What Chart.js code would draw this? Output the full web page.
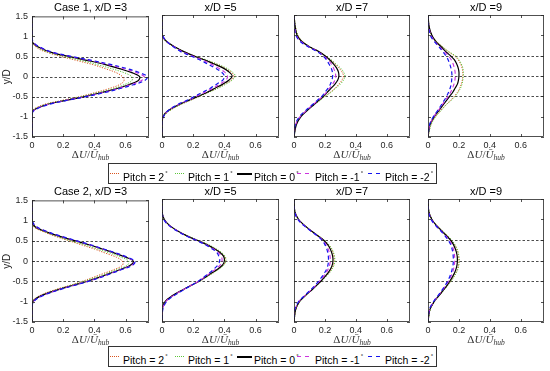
<!DOCTYPE html>
<html>
<head>
<meta charset="utf-8">
<script src="https://cdn.jsdelivr.net/npm/chart.js@4.4.1/dist/chart.umd.min.js"></script>
<style>
  html, body { margin: 0; padding: 0; background: #fff; }
  #fig { position: relative; width: 550px; height: 371px; overflow: hidden; font-family: "Liberation Sans", Arial, sans-serif; }
  .cv { position: absolute; }
  .ttl { position: absolute; font-size: 11px; color: #000; transform: translateX(-50%); white-space: nowrap; line-height: 12px; }
  .xl { position: absolute; font-family: "Liberation Serif", serif; font-size: 11px; color: #333; transform: translateX(-50%); white-space: nowrap; line-height: 12px; }
  .xl sub { font-size: 7.5px; vertical-align: -2px; }
  .leg { position: absolute; left: 108px; width: 327px; height: 19px; border: 1px solid #333; background: #fff; }
  .sw { position: absolute; top: 9px; }
  .tx { position: absolute; top: 3px; font-size: 10.5px; line-height: 13px; white-space: nowrap; color: #000; }
  .tx sup { font-size: 6px; vertical-align: 6px; margin-left: 1px; }
</style>
</head>
<body>
<div id="fig"></div>
<script>
// y/D positions of the profile samples
const yD = [1.5, 1.2, 1.0, 0.85, 0.7, 0.6, 0.5, 0.4, 0.3, 0.2, 0.1, 0, -0.1, -0.2, -0.3, -0.4, -0.5, -0.6, -0.7, -0.85, -1.0, -1.2, -1.5];

// deficit profiles, order: pitch 2, 1, 0, -1, -2
const case1_xD3 = [
  [0, 0, 0, 0, 0.04, 0.10, 0.19, 0.29, 0.39, 0.47, 0.54, 0.58, 0.59, 0.56, 0.49, 0.40, 0.30, 0.18, 0.07, 0, 0, 0, 0],
  [0, 0, 0, 0, 0.05, 0.11, 0.21, 0.32, 0.42, 0.51, 0.59, 0.64, 0.64, 0.59, 0.52, 0.42, 0.31, 0.19, 0.08, 0, 0, 0, 0],
  [0, 0, 0, 0.005, 0.06, 0.13, 0.24, 0.36, 0.47, 0.56, 0.64, 0.69, 0.68, 0.62, 0.54, 0.44, 0.33, 0.20, 0.09, 0.005, 0, 0, 0],
  [0, 0, 0, 0.008, 0.065, 0.135, 0.25, 0.38, 0.49, 0.59, 0.67, 0.72, 0.70, 0.63, 0.55, 0.45, 0.335, 0.205, 0.095, 0.008, 0, 0, 0],
  [0, 0, 0, 0.01, 0.07, 0.14, 0.26, 0.39, 0.51, 0.61, 0.69, 0.74, 0.72, 0.65, 0.56, 0.46, 0.34, 0.21, 0.10, 0.01, 0, 0, 0]
];
const case1_xD5 = [
  [0, 0, 0, 0.025, 0.09, 0.14, 0.20, 0.275, 0.345, 0.40, 0.44, 0.46, 0.445, 0.40, 0.355, 0.30, 0.24, 0.18, 0.12, 0.05, 0.01, 0, 0],
  [0, 0, 0, 0.025, 0.09, 0.14, 0.20, 0.28, 0.35, 0.41, 0.45, 0.47, 0.45, 0.41, 0.36, 0.30, 0.24, 0.18, 0.12, 0.05, 0.01, 0, 0],
  [0, 0, 0, 0.03, 0.09, 0.14, 0.20, 0.27, 0.33, 0.39, 0.43, 0.45, 0.43, 0.39, 0.34, 0.29, 0.23, 0.17, 0.11, 0.04, 0.005, 0, 0],
  [0, 0, 0.003, 0.03, 0.085, 0.13, 0.19, 0.255, 0.31, 0.36, 0.40, 0.42, 0.41, 0.37, 0.325, 0.275, 0.22, 0.165, 0.105, 0.04, 0.008, 0, 0],
  [0, 0, 0.005, 0.03, 0.08, 0.12, 0.18, 0.24, 0.29, 0.34, 0.38, 0.40, 0.39, 0.35, 0.31, 0.26, 0.21, 0.16, 0.10, 0.04, 0.01, 0, 0]
];
const case1_xD7 = [
  [0, 0.01, 0.025, 0.055, 0.11, 0.16, 0.20, 0.235, 0.265, 0.29, 0.31, 0.32, 0.31, 0.29, 0.265, 0.235, 0.20, 0.165, 0.13, 0.08, 0.04, 0.012, 0],
  [0, 0.01, 0.025, 0.055, 0.11, 0.16, 0.20, 0.24, 0.27, 0.30, 0.32, 0.33, 0.32, 0.30, 0.27, 0.24, 0.20, 0.17, 0.13, 0.08, 0.04, 0.012, 0],
  [0, 0.008, 0.02, 0.05, 0.11, 0.16, 0.20, 0.23, 0.255, 0.275, 0.287, 0.29, 0.283, 0.265, 0.24, 0.215, 0.19, 0.16, 0.13, 0.085, 0.045, 0.015, 0],
  [0, 0.005, 0.015, 0.045, 0.105, 0.155, 0.19, 0.22, 0.24, 0.255, 0.265, 0.27, 0.265, 0.25, 0.23, 0.21, 0.185, 0.155, 0.125, 0.08, 0.04, 0.01, 0],
  [0, 0.003, 0.012, 0.04, 0.10, 0.15, 0.185, 0.21, 0.225, 0.24, 0.248, 0.25, 0.245, 0.235, 0.22, 0.20, 0.18, 0.15, 0.12, 0.075, 0.035, 0.008, 0]
];
const case1_xD9 = [
  [0, 0.008, 0.025, 0.055, 0.10, 0.13, 0.17, 0.195, 0.21, 0.22, 0.225, 0.225, 0.222, 0.215, 0.205, 0.19, 0.17, 0.145, 0.118, 0.082, 0.048, 0.018, 0],
  [0, 0.008, 0.025, 0.055, 0.10, 0.135, 0.175, 0.20, 0.215, 0.225, 0.228, 0.228, 0.225, 0.22, 0.21, 0.195, 0.175, 0.15, 0.12, 0.085, 0.05, 0.02, 0],
  [0, 0.008, 0.025, 0.05, 0.09, 0.115, 0.145, 0.17, 0.185, 0.195, 0.20, 0.20, 0.197, 0.19, 0.175, 0.16, 0.14, 0.12, 0.10, 0.07, 0.04, 0.012, 0],
  [0, 0.006, 0.02, 0.045, 0.08, 0.105, 0.13, 0.15, 0.162, 0.17, 0.175, 0.176, 0.174, 0.168, 0.158, 0.146, 0.13, 0.112, 0.093, 0.066, 0.038, 0.011, 0],
  [0, 0.004, 0.015, 0.04, 0.075, 0.095, 0.115, 0.13, 0.14, 0.148, 0.153, 0.155, 0.153, 0.15, 0.143, 0.133, 0.12, 0.105, 0.088, 0.062, 0.035, 0.01, 0]
];
const case2_xD3 = [
  [0, 0, 0, 0.01, 0.09, 0.16, 0.24, 0.32, 0.40, 0.47, 0.54, 0.58, 0.58, 0.53, 0.46, 0.39, 0.32, 0.24, 0.15, 0.05, 0, 0, 0],
  [0, 0, 0, 0.015, 0.10, 0.17, 0.25, 0.34, 0.42, 0.50, 0.57, 0.62, 0.61, 0.55, 0.48, 0.41, 0.33, 0.245, 0.16, 0.055, 0, 0, 0],
  [0, 0, 0, 0.02, 0.11, 0.19, 0.28, 0.37, 0.45, 0.53, 0.60, 0.65, 0.63, 0.57, 0.50, 0.43, 0.35, 0.26, 0.17, 0.06, 0.005, 0, 0],
  [0, 0, 0, 0.025, 0.115, 0.195, 0.285, 0.375, 0.455, 0.535, 0.605, 0.655, 0.64, 0.575, 0.505, 0.435, 0.355, 0.265, 0.175, 0.065, 0.008, 0, 0],
  [0, 0, 0, 0.03, 0.12, 0.20, 0.29, 0.38, 0.46, 0.54, 0.61, 0.66, 0.645, 0.58, 0.51, 0.44, 0.36, 0.27, 0.18, 0.07, 0.01, 0, 0]
];
const case2_xD5 = [
  [0, 0, 0.015, 0.05, 0.11, 0.16, 0.22, 0.285, 0.335, 0.375, 0.40, 0.405, 0.395, 0.365, 0.325, 0.285, 0.24, 0.19, 0.14, 0.07, 0.02, 0, 0],
  [0, 0, 0.015, 0.05, 0.11, 0.165, 0.225, 0.29, 0.34, 0.38, 0.405, 0.41, 0.40, 0.37, 0.33, 0.29, 0.245, 0.195, 0.145, 0.075, 0.025, 0, 0],
  [0, 0, 0.015, 0.05, 0.11, 0.16, 0.22, 0.28, 0.33, 0.37, 0.395, 0.40, 0.39, 0.36, 0.32, 0.28, 0.24, 0.19, 0.14, 0.07, 0.02, 0, 0],
  [0, 0, 0.013, 0.048, 0.108, 0.158, 0.218, 0.275, 0.322, 0.36, 0.38, 0.385, 0.375, 0.348, 0.312, 0.275, 0.238, 0.19, 0.142, 0.075, 0.025, 0.002, 0],
  [0, 0, 0.012, 0.045, 0.105, 0.155, 0.215, 0.27, 0.315, 0.35, 0.365, 0.37, 0.36, 0.335, 0.305, 0.27, 0.235, 0.19, 0.145, 0.08, 0.03, 0.005, 0]
];
const case2_xD7 = [
  [0, 0.006, 0.03, 0.07, 0.12, 0.158, 0.193, 0.22, 0.24, 0.252, 0.258, 0.26, 0.256, 0.244, 0.226, 0.202, 0.176, 0.148, 0.12, 0.077, 0.038, 0.012, 0],
  [0, 0.006, 0.03, 0.07, 0.12, 0.16, 0.195, 0.222, 0.242, 0.255, 0.262, 0.264, 0.26, 0.248, 0.23, 0.205, 0.178, 0.15, 0.122, 0.078, 0.04, 0.012, 0],
  [0, 0.005, 0.03, 0.07, 0.12, 0.155, 0.19, 0.215, 0.232, 0.243, 0.25, 0.252, 0.248, 0.237, 0.22, 0.198, 0.175, 0.148, 0.12, 0.075, 0.035, 0.01, 0],
  [0, 0.004, 0.027, 0.067, 0.117, 0.152, 0.185, 0.205, 0.218, 0.228, 0.233, 0.235, 0.231, 0.222, 0.207, 0.188, 0.166, 0.142, 0.116, 0.072, 0.032, 0.007, 0],
  [0, 0.003, 0.025, 0.065, 0.115, 0.15, 0.18, 0.198, 0.21, 0.218, 0.222, 0.223, 0.22, 0.212, 0.198, 0.18, 0.16, 0.137, 0.112, 0.07, 0.03, 0.005, 0]
];
const case2_xD9 = [
  [0, 0.006, 0.027, 0.058, 0.099, 0.125, 0.151, 0.17, 0.184, 0.193, 0.198, 0.20, 0.198, 0.192, 0.181, 0.166, 0.148, 0.128, 0.107, 0.074, 0.042, 0.013, 0],
  [0, 0.006, 0.027, 0.058, 0.10, 0.127, 0.153, 0.172, 0.186, 0.195, 0.20, 0.202, 0.20, 0.194, 0.183, 0.168, 0.15, 0.13, 0.108, 0.075, 0.043, 0.014, 0],
  [0, 0.005, 0.025, 0.055, 0.095, 0.12, 0.145, 0.163, 0.175, 0.184, 0.189, 0.19, 0.188, 0.182, 0.172, 0.158, 0.142, 0.124, 0.104, 0.072, 0.04, 0.012, 0],
  [0, 0.004, 0.022, 0.052, 0.09, 0.114, 0.136, 0.152, 0.162, 0.169, 0.172, 0.173, 0.171, 0.166, 0.158, 0.146, 0.133, 0.116, 0.098, 0.068, 0.038, 0.01, 0],
  [0, 0.003, 0.02, 0.05, 0.088, 0.11, 0.13, 0.145, 0.154, 0.16, 0.163, 0.164, 0.162, 0.157, 0.15, 0.14, 0.128, 0.112, 0.095, 0.066, 0.036, 0.008, 0]
];

const panels = [case1_xD3, case1_xD5, case1_xD7, case1_xD9, case2_xD3, case2_xD5, case2_xD7, case2_xD9];
const titles = ['Case 1, x/D =3', 'x/D =5', 'x/D =7', 'x/D =9', 'Case 2, x/D =3', 'x/D =5', 'x/D =7', 'x/D =9'];
const pitchLabels = ['Pitch = 2', 'Pitch = 1', 'Pitch = 0', 'Pitch = -1', 'Pitch = -2'];
const xTicks = [0, 0.2, 0.4, 0.6];
const yTicks = [-1.5, -1, -0.5, 0, 0.5, 1, 1.5];
const refLines = [0.5, 0, -0.5];

// look of each pitch line
const colors = ['#d9541e', '#5cc63a', '#000000', '#cc33dd', '#1515ee'];
const dashes = [[1.2, 1.4], [1.2, 1.4], [], [4, 3], [4, 3]];
const widths = [1, 1, 1.2, 1.1, 1.2];

// panel placement (plot area)
const colL = [32, 162, 294, 428];
const colW = [117, 117, 116, 116];
const rowT = [15, 199];
const rowH = [122, 123];
const PADT = 8, YW = 32, XH = 16, PADR = 4;

const fig = document.getElementById('fig');

const framePlugin = {
  id: 'frame',
  beforeDatasetsDraw(chart) {
    const { ctx, chartArea: a, scales } = chart;
    ctx.save();
    ctx.strokeStyle = '#000';
    ctx.lineWidth = 0.7;
    ctx.setLineDash([2.5, 2]);
    refLines.forEach(v => {
      const py = Math.round(scales.y.getPixelForValue(v)) + 0.5;
      ctx.beginPath();
      ctx.moveTo(a.left, py);
      ctx.lineTo(a.right, py);
      ctx.stroke();
    });
    ctx.restore();
  },
  afterDraw(chart) {
    const { ctx, chartArea: a, scales } = chart;
    ctx.save();
    ctx.strokeStyle = '#262626';
    ctx.lineWidth = 0.8;
    ctx.strokeRect(a.left + 0.5, a.top + 0.5, a.right - a.left - 1, a.bottom - a.top - 1);
    ctx.beginPath();
    yTicks.forEach(v => {
      const py = Math.round(scales.y.getPixelForValue(v)) + 0.5;
      ctx.moveTo(a.left, py); ctx.lineTo(a.left + 3, py);
      ctx.moveTo(a.right, py); ctx.lineTo(a.right - 3, py);
    });
    xTicks.forEach(v => {
      const px = Math.round(scales.x.getPixelForValue(v)) + 0.5;
      ctx.moveTo(px, a.bottom); ctx.lineTo(px, a.bottom - 3);
      ctx.moveTo(px, a.top); ctx.lineTo(px, a.top + 3);
    });
    ctx.stroke();
    ctx.restore();
  }
};

panels.forEach((prof, i) => {
  const r = Math.floor(i / 4), c = i % 4;
  const L = colL[c], W = colW[c], T = rowT[r], H = rowH[r];
  const cw = YW + W + PADR, ch = PADT + H + XH;
  const cv = document.createElement('canvas');
  cv.className = 'cv';
  cv.width = cw; cv.height = ch;
  cv.style.left = (L - YW) + 'px';
  cv.style.top = (T - PADT) + 'px';
  cv.style.width = cw + 'px';
  cv.style.height = ch + 'px';
  fig.appendChild(cv);

  const ttl = document.createElement('div');
  ttl.className = 'ttl';
  ttl.textContent = titles[i];
  ttl.style.left = (L + W / 2) + 'px';
  ttl.style.top = (T - 14) + 'px';
  fig.appendChild(ttl);

  const xl = document.createElement('div');
  xl.className = 'xl';
  xl.innerHTML = '&Delta;<i>U</i>/<i>&#362;</i><sub><i>hub</i></sub>';
  xl.style.left = (L + W / 2) + 'px';
  xl.style.top = (T + H + 11) + 'px';
  fig.appendChild(xl);

  new Chart(cv, {
    type: 'line',
    data: {
      datasets: prof.map((vals, k) => ({
        label: pitchLabels[k] + '°',
        data: vals.map((v, j) => ({ x: v, y: yD[j] })),
        borderColor: colors[k],
        borderDash: dashes[k],
        borderWidth: widths[k],
        pointRadius: 0,
        tension: 0.35,
        fill: false
      })).reverse()
    },
    options: {
      indexAxis: 'y',
      responsive: false,
      animation: false,
      devicePixelRatio: 1,
      layout: { padding: { top: PADT, right: PADR, left: 0, bottom: 0 } },
      plugins: { legend: { display: false }, tooltip: { enabled: false } },
      scales: {
        x: {
          type: 'linear', min: 0, max: 0.75,
          grid: { display: false, drawTicks: false },
          border: { display: false },
          afterFit: s => { s.height = XH; },
          afterBuildTicks: s => { s.ticks = xTicks.map(v => ({ value: v })); },
          ticks: { padding: 3, color: '#262626', font: { size: 9, family: 'Liberation Sans' }, maxRotation: 0, callback: v => String(v) }
        },
        y: {
          type: 'linear', min: -1.5, max: 1.5,
          grid: { display: false, drawTicks: false },
          border: { display: false },
          afterFit: s => { s.width = YW; },
          afterBuildTicks: s => { s.ticks = yTicks.map(v => ({ value: v })); },
          title: { display: c === 0, text: 'y/D', color: '#262626', padding: { top: 1, bottom: 0 }, font: { size: 10, family: 'Liberation Sans' } },
          ticks: { display: c === 0, padding: 4, color: '#262626', font: { size: 9, family: 'Liberation Sans' }, callback: v => String(v) }
        }
      }
    },
    plugins: [framePlugin]
  });
});

// legends under each row (swatch start, swatch length, text start; page x)
const legTop = [163, 346];
const swX = [110, 175, 237, 297, 368];
const swLen = [10, 10, 15, 15, 14];
const txX = [123, 188, 254, 315, 385];
const swOn = [1, 1, 15, 4, 4];
const swOff = [1, 1, 0, 4, 4];
legTop.forEach(t => {
  const box = document.createElement('div');
  box.className = 'leg';
  box.style.top = t + 'px';
  pitchLabels.forEach((lab, k) => {
    const sw = document.createElement('div');
    sw.className = 'sw';
    sw.style.left = (swX[k] - 109) + 'px';
    sw.style.width = swLen[k] + 'px';
    sw.style.height = (k === 2 ? 1.5 : 1.2) + 'px';
    sw.style.background = 'repeating-linear-gradient(90deg, ' + colors[k] + ' 0 ' + swOn[k] + 'px, transparent ' + swOn[k] + 'px ' + (swOn[k] + swOff[k]) + 'px)';
    box.appendChild(sw);
    const tx = document.createElement('div');
    tx.className = 'tx';
    tx.style.left = (txX[k] - 109) + 'px';
    tx.innerHTML = lab + '<sup>°</sup>';
    box.appendChild(tx);
  });
  fig.appendChild(box);
});
</script>
</body>
</html>
